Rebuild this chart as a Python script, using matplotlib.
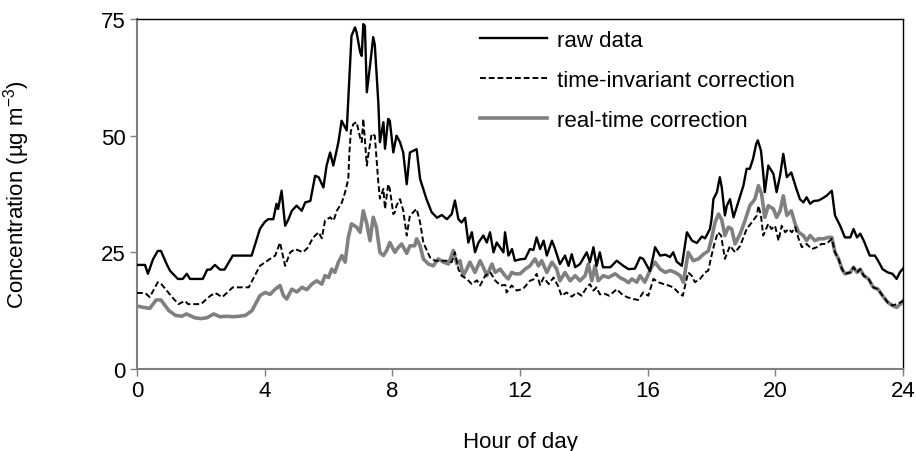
import matplotlib
matplotlib.use("Agg")
import matplotlib.pyplot as plt

# raw data (hour, concentration)
raw_hours = [0.0, 0.25, 0.34, 0.5, 0.65, 0.75, 0.94, 1.04, 1.28, 1.43, 1.56, 1.66, 2.06, 2.2, 2.3,
             2.44, 2.6, 2.74, 3.0, 3.59, 3.85, 4.0, 4.11, 4.27, 4.37, 4.42, 4.53, 4.64, 4.74, 4.85,
             5.0, 5.16, 5.27, 5.43, 5.58, 5.69, 5.84, 5.94, 6.05, 6.15, 6.31, 6.41, 6.57, 6.72, 6.83,
             6.88, 6.99, 7.04, 7.09, 7.14, 7.2, 7.3, 7.4, 7.45, 7.56, 7.61, 7.72, 7.77, 7.87, 7.92,
             8.03, 8.13, 8.24, 8.34, 8.45, 8.55, 8.76, 8.87, 9.07, 9.23, 9.4, 9.55, 9.71, 9.86, 9.96,
             10.07, 10.17, 10.28, 10.38, 10.49, 10.59, 10.7, 10.85, 10.96, 11.06, 11.17, 11.27, 11.38,
             11.48, 11.53, 11.64, 11.75, 11.84, 12.0, 12.16, 12.31, 12.42, 12.52, 12.63, 12.74, 12.84,
             13.0, 13.1, 13.25, 13.41, 13.52, 13.62, 13.73, 13.88, 14.09, 14.19, 14.3, 14.4, 14.5,
             14.6, 14.83, 15.03, 15.24, 15.4, 15.6, 15.76, 15.86, 16.07, 16.18, 16.23, 16.39, 16.55,
             16.7, 16.8, 16.91, 17.07, 17.23, 17.39, 17.54, 17.7, 17.8, 17.95, 18.0, 18.06, 18.17,
             18.26, 18.32, 18.42, 18.48, 18.58, 18.69, 18.85, 19.0, 19.1, 19.2, 19.3, 19.4, 19.45,
             19.55, 19.62, 19.67, 19.78, 19.94, 20.04, 20.15, 20.25, 20.36, 20.5, 20.66, 20.77, 20.88,
             20.98, 21.09, 21.2, 21.35, 21.46, 21.6, 21.77, 21.87, 22.03, 22.18, 22.35, 22.45, 22.56,
             22.66, 22.77, 22.96, 23.12, 23.22, 23.36, 23.52, 23.67, 23.8, 23.9, 24.0]
raw_vals = [22.3, 22.3, 20.4, 23.5, 25.3, 25.3, 22.3, 21.0, 19.3, 19.3, 20.4, 19.3, 19.3, 21.3, 21.3,
            22.3, 21.3, 21.3, 24.3, 24.3, 30.0, 31.5, 32.1, 32.1, 35.4, 34.3, 38.2, 30.7, 32.0, 33.9,
            35.0, 33.9, 35.7, 36.0, 41.4, 41.1, 38.9, 43.6, 46.4, 43.6, 48.6, 53.2, 51.1, 71.4, 73.2,
            72.1, 67.9, 67.1, 73.9, 73.5, 59.3, 65.0, 71.1, 69.5, 57.1, 48.6, 52.9, 47.2, 53.6, 53.2,
            46.4, 50.0, 48.6, 46.4, 39.6, 46.4, 47.1, 40.7, 36.4, 33.6, 32.4, 33.0, 32.1, 33.2, 36.1,
            32.1, 31.4, 32.4, 27.1, 29.3, 25.0, 27.1, 28.6, 27.1, 29.3, 25.0, 27.1, 26.0,
            25.0, 29.3, 24.3, 25.7, 23.2, 23.5, 23.6, 25.7, 25.5, 28.2, 25.7, 27.5, 24.3,
            27.5, 25.7, 22.5, 24.3, 22.1, 24.6, 21.8, 22.5, 25.0, 22.9, 26.1, 22.1, 25.0,
            21.8, 21.8, 23.2, 22.1, 21.4, 21.5, 23.9, 23.6, 21.0, 24.3, 26.1, 24.3, 24.5,
            24.0, 25.0, 23.0, 22.1, 29.3, 27.5, 27.0, 28.4, 28.0, 30.0, 32.0, 36.4, 37.9,
            41.1, 39.0, 32.9, 35.0, 36.4, 32.5, 36.0, 39.3, 42.9, 42.9, 45.0, 48.2, 49.0,
            46.8, 42.0, 37.9, 43.6, 41.8, 37.9, 41.5, 46.1, 41.1, 42.1, 38.6, 36.4, 35.7,
            36.8, 35.4, 36.0, 36.1, 36.5, 37.1, 38.2, 32.9, 30.7, 28.2, 28.2, 30.0, 28.2,
            29.0, 27.5, 24.3, 24.3, 23.2, 21.4, 20.7, 20.4, 19.3, 20.7, 21.5]

# time-invariant correction
ti_hours = [0.0, 0.25, 0.4, 0.65, 0.75, 1.1, 1.3, 1.5, 1.6, 2.0, 2.3, 2.45, 2.67, 3.0, 3.5, 3.85,
            4.17, 4.33, 4.48, 4.64, 4.8, 4.95, 5.1, 5.2, 5.35, 5.52, 5.69, 5.79, 5.89, 6.05, 6.16,
            6.26, 6.42, 6.52, 6.62, 6.65, 6.7, 6.78, 6.88, 6.99, 7.04, 7.09, 7.2, 7.25, 7.35, 7.45,
            7.56, 7.61, 7.72, 7.77, 7.87, 7.92, 8.03, 8.08, 8.13, 8.24, 8.34, 8.45, 8.55, 8.76, 8.87,
            8.97, 9.18, 9.34, 9.5, 9.71, 9.86, 9.96, 10.07, 10.17, 10.33, 10.49, 10.65, 10.75, 10.91,
            11.07, 11.22, 11.38, 11.54, 11.58, 11.74, 11.9, 12.1, 12.31, 12.42, 12.52, 12.63, 12.74,
            12.9, 13.05, 13.2, 13.3, 13.46, 13.62, 13.78, 13.93, 14.09, 14.19, 14.3, 14.4, 14.5,
            14.66, 14.8, 15.03, 15.18, 15.35, 15.55, 15.7, 15.86, 16.02, 16.18, 16.33, 16.5, 16.65,
            16.8, 16.96, 17.1, 17.27, 17.38, 17.48, 17.64, 17.8, 17.9, 18.0, 18.1, 18.2, 18.3, 18.42,
            18.58, 18.74, 18.9, 19.1, 19.26, 19.42, 19.47, 19.55, 19.62, 19.78, 19.88, 19.99, 20.1,
            20.2, 20.31, 20.41, 20.52, 20.62, 20.73, 20.83, 20.98, 21.14, 21.3, 21.45, 21.6, 21.77,
            21.87, 21.98, 22.09, 22.18, 22.35, 22.45, 22.56, 22.66, 22.77, 22.92, 23.07, 23.22, 23.36,
            23.52, 23.67, 23.8, 23.9, 24.0]
ti_vals = [16.3, 16.3, 15.4, 18.6, 18.3, 15.4, 13.9, 14.6, 13.9, 13.9, 15.7, 16.3, 15.4, 17.5, 17.5, 22.1,
           23.6, 24.3, 27.1, 22.1, 25.0, 25.7, 25.3, 25.0, 26.0, 28.2, 29.3, 28.0, 31.8, 32.5, 31.8,
           33.9, 35.7, 37.9, 40.7, 46.0, 51.0, 52.5, 52.9, 49.6, 48.6, 53.6, 43.6, 46.0, 50.4, 50.0,
           40.0, 36.5, 38.6, 34.3, 39.6, 38.6, 33.2, 33.6, 35.0, 36.4, 34.0, 28.6, 32.9, 34.3, 31.4,
           27.1, 23.9, 23.2, 23.2, 23.2, 22.9, 25.0, 21.4, 20.0, 19.3, 18.2, 19.0, 17.9, 20.0,
           20.7, 19.0, 17.9, 18.0, 16.4, 17.9, 16.8, 17.2, 18.9, 19.2, 20.4, 18.0, 19.6,
           18.2, 19.6, 17.7, 15.7, 16.4, 15.5, 16.4, 15.7, 17.5, 18.2, 16.8, 17.5, 16.0,
           16.1, 15.7, 17.1, 16.1, 15.4, 15.0, 14.8, 16.4, 15.7, 19.3, 18.6, 18.2, 17.9,
           17.5, 16.4, 15.7, 20.7, 20.0, 18.6, 19.3, 20.7, 21.1, 24.3, 27.1, 29.3, 28.6, 23.6,
           26.4, 25.0, 26.4, 30.0, 31.4, 32.9, 35.0, 32.9, 28.6, 31.1, 30.0, 30.7, 27.5,
           30.7, 29.3, 30.0, 29.3, 30.4, 27.9, 26.1, 26.8, 25.7, 26.1, 26.8, 26.8, 27.9,
           25.0, 23.6, 21.4, 20.4, 20.7, 21.8, 20.7, 21.4, 20.0, 19.3, 17.5, 17.1, 15.7,
           14.3, 13.6, 13.9, 14.2, 14.6]

# real-time correction
rt_hours = [0.0, 0.2, 0.4, 0.6, 0.75, 1.0, 1.2, 1.4, 1.55, 1.8, 2.0, 2.2, 2.4, 2.6, 2.8, 3.0, 3.2,
            3.4, 3.6, 3.85, 4.01, 4.17, 4.33, 4.48, 4.59, 4.69, 4.85, 5.01, 5.17, 5.32, 5.48, 5.63,
            5.79, 5.89, 6.0, 6.1, 6.2, 6.31, 6.42, 6.52, 6.62, 6.72, 6.88, 6.99, 7.09, 7.2, 7.3, 7.4,
            7.5, 7.61, 7.72, 7.83, 7.92, 8.08, 8.18, 8.29, 8.45, 8.55, 8.7, 8.76, 8.87, 8.97, 9.13,
            9.28, 9.44, 9.6, 9.76, 9.91, 10.02, 10.12, 10.22, 10.33, 10.43, 10.59, 10.75, 10.85,
            10.96, 11.12, 11.22, 11.38, 11.53, 11.63, 11.74, 11.84, 12.0, 12.16, 12.31, 12.47, 12.58,
            12.68, 12.84, 13.0, 13.15, 13.25, 13.41, 13.57, 13.73, 13.88, 14.04, 14.14, 14.25, 14.35,
            14.45, 14.61, 14.77, 14.98, 15.13, 15.3, 15.4, 15.5, 15.66, 15.76, 15.91, 16.12, 16.23,
            16.39, 16.55, 16.7, 16.86, 17.02, 17.12, 17.27, 17.43, 17.59, 17.75, 17.9, 18.0, 18.11,
            18.22, 18.32, 18.42, 18.53, 18.63, 18.74, 18.9, 19.06, 19.2, 19.36, 19.47, 19.57, 19.67,
            19.78, 19.94, 20.04, 20.15, 20.25, 20.36, 20.5, 20.62, 20.73, 20.88, 20.98, 21.09, 21.24,
            21.35, 21.51, 21.66, 21.77, 21.87, 21.98, 22.09, 22.18, 22.35, 22.45, 22.56, 22.66, 22.77,
            22.92, 23.07, 23.22, 23.36, 23.52, 23.67, 23.8, 23.9, 24.0]
rt_vals = [13.5, 13.2, 13.0, 14.8, 14.8, 12.5, 11.5, 11.3, 11.8, 11.0, 10.8, 11.0, 11.8, 11.2, 11.3, 11.2, 11.3,
           11.5, 12.5, 15.7, 16.4, 16.0, 17.1, 17.9, 15.7, 15.0, 17.1, 16.5, 17.5, 17.0, 18.2, 18.9,
           18.2, 20.0, 19.6, 21.4, 20.7, 22.9, 24.3, 22.9, 28.2, 31.1, 30.4, 29.3, 33.9, 31.1, 27.5, 32.5,
           30.4, 25.0, 24.3, 25.5, 27.1, 25.0, 26.0, 26.8, 24.8, 26.4, 26.4, 27.9, 26.4, 23.6, 22.5,
           22.1, 23.6, 22.9, 22.5, 25.4, 22.5, 23.2, 20.0, 21.4, 22.9, 20.7, 23.2, 21.8,
           20.0, 22.5, 20.7, 21.4, 20.0, 19.3, 20.7, 20.4, 20.4, 21.4, 22.1, 23.6, 22.1,
           23.2, 20.7, 22.9, 21.4, 18.9, 20.7, 18.9, 20.0, 18.9, 20.0, 22.5, 18.9, 22.1,
           18.9, 20.0, 19.6, 20.4, 19.6, 19.0, 18.5, 19.3, 18.6, 20.0, 18.6, 21.8, 22.9,
           21.4, 20.7, 21.1, 20.7, 20.0, 18.6, 25.0, 23.2, 23.6, 24.6, 25.3, 27.9, 31.4,
           33.2, 32.0, 28.6, 30.4, 30.0, 26.8, 29.0, 32.0, 35.0, 36.4, 39.3, 37.5, 32.5,
           35.0, 34.3, 32.5, 33.9, 37.1, 32.9, 33.9, 31.1, 29.3, 28.6, 27.5, 28.6, 27.5,
           27.9, 27.9, 28.2, 28.2, 25.0, 23.6, 21.4, 20.4, 20.7, 21.8, 20.7, 21.4, 20.0,
           19.3, 17.5, 17.1, 15.7, 14.3, 13.6, 13.2, 13.8, 14.6]

x_ticks = [0, 4, 8, 12, 16, 20, 24]
y_ticks = [0, 25, 50, 75]

plt.rcParams['font.family'] = ['Liberation Sans', 'DejaVu Sans']
plt.rcParams['mathtext.fontset'] = 'custom'
plt.rcParams['mathtext.rm'] = 'Liberation Sans'

fig = plt.figure(figsize=(9.16, 4.52), dpi=100)
ax = fig.add_axes([0.1496, 0.1814, 0.8362, 0.7744])

ax.plot(rt_hours, rt_vals, color='#808080', lw=2.6, label='real-time correction', zorder=2)
ax.plot(ti_hours, ti_vals, color='black', lw=1.4, ls=(0, (3, 1.5)), label='time-invariant correction', zorder=3)
ax.plot(raw_hours, raw_vals, color='black', lw=1.7, label='raw data', zorder=4)

ax.set_xlim(0, 24)
ax.set_ylim(0, 75)
ax.set_xticks(x_ticks)
ax.set_yticks(y_ticks)
ax.tick_params(direction='out', length=5, width=1, color='#808080', labelsize=16, pad=3)

for side in ['left', 'bottom']:
    ax.spines[side].set_color('#808080')
    ax.spines[side].set_linewidth(1.5)
for side in ['top', 'right']:
    ax.spines[side].set_color('black')
    ax.spines[side].set_linewidth(1.0)

ax.set_xlabel('Hour of day', fontsize=16)
ax.set_ylabel(r'Concentration (µg m$^{\mathregular{-3}}$)', fontsize=16)
ax.xaxis.set_label_coords(0.5, -0.178)
ax.yaxis.set_label_coords(-0.137, 0.5)

handles, labels = ax.get_legend_handles_labels()
order = [2, 1, 0]
ax.legend([handles[i] for i in order], [labels[i] for i in order],
          loc='upper left', bbox_to_anchor=(0.448, 0.969), frameon=False, fontsize=16,
          borderpad=0, borderaxespad=0,
          handlelength=3.0, handletextpad=0.45, labelspacing=0.85)

fig.savefig('out.png', dpi=100)
